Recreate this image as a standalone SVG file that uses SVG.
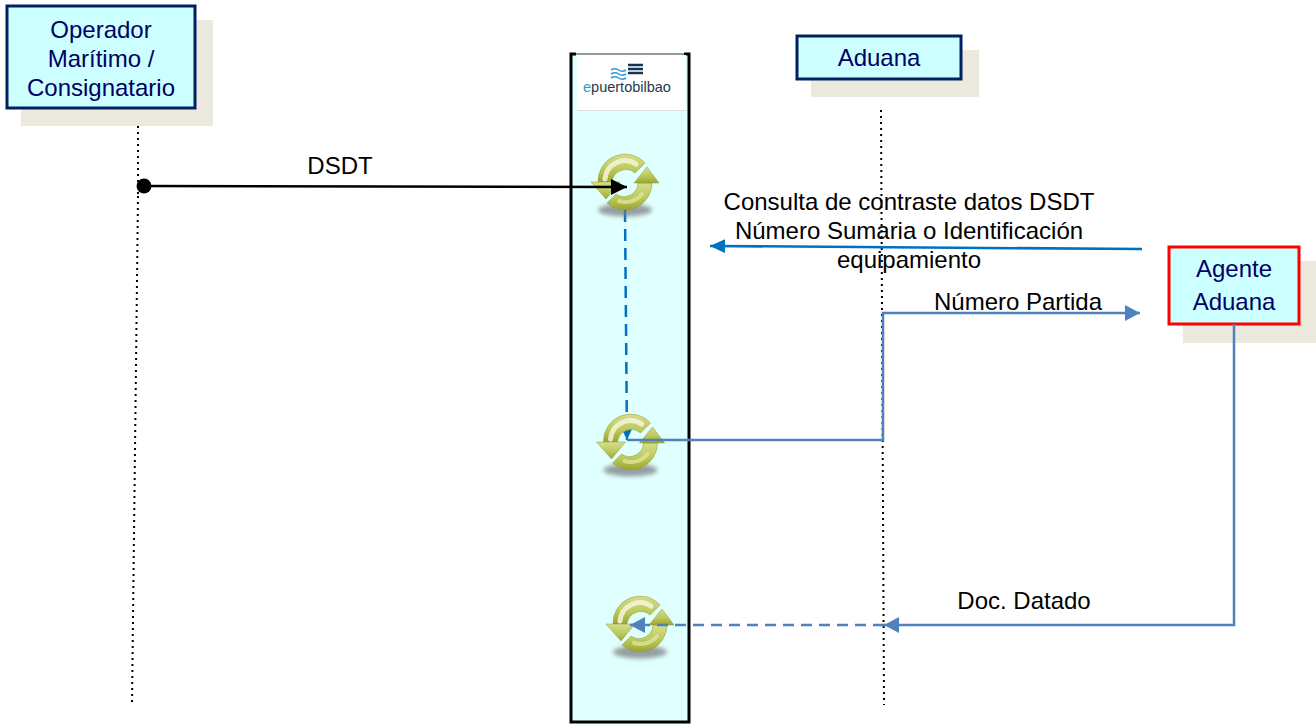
<svg xmlns="http://www.w3.org/2000/svg" width="1316" height="724" viewBox="0 0 1316 724">
<style>
text{font-family:"Liberation Sans",Arial,sans-serif}
.n{font-size:24px;fill:#000066;text-anchor:middle}
.l{font-size:24px;fill:#000;text-anchor:middle}
.sh{fill:#ECE9DF}
.box{fill:#CCFFFF;stroke:#002060;stroke-width:3}
.dot{fill:none;stroke:#000;stroke-width:2;stroke-dasharray:2 4}
.blue{fill:none;stroke:#4F81BD;stroke-width:2.5}
.ico{stroke:#8F9A35;stroke-width:.5}
</style>
<defs>
<marker id="ab" viewBox="0 0 10 10" preserveAspectRatio="none" refX="10" refY="5" markerWidth="15" markerHeight="16" markerUnits="userSpaceOnUse" orient="auto"><path d="M0,0L10,5L0,10Z" fill="#4F81BD"/></marker>
<marker id="ad" viewBox="0 0 10 10" preserveAspectRatio="none" refX="10" refY="5" markerWidth="15" markerHeight="14" markerUnits="userSpaceOnUse" orient="auto"><path d="M0,0L10,5L0,10Z" fill="#0070C0"/></marker>
<marker id="ak" viewBox="0 0 10 10" preserveAspectRatio="none" refX="10" refY="5" markerWidth="16" markerHeight="16" markerUnits="userSpaceOnUse" orient="auto"><path d="M0,0L10,5L0,10Z" fill="#000"/></marker>
<linearGradient id="g" x1="0" y1="0" x2="0" y2="1"><stop offset="0" stop-color="#D5DE8C"/><stop offset=".55" stop-color="#BEC95C"/><stop offset="1" stop-color="#9AA632"/></linearGradient>
<filter id="b" x="-30%" y="-80%" width="160%" height="260%"><feGaussianBlur stdDeviation="2"/></filter>
<symbol id="icon" viewBox="-36 -30 72 70" width="72" height="70" overflow="visible">
<ellipse cx="0" cy="28" rx="27" ry="6.500" fill="#777" opacity=".7" filter="url(#b)"/>
<g class="ico" fill="url(#g)">
<path d="M-27,0A27,27 0 0 1 20,-19L10,-9A14,14 0 0 0 -13,0Z"/>
<path d="M-34,0L-5,0L-19,17Z"/>
<path d="M27,1A27,27 0 0 1 -18,21L-9,12A14,14 0 0 0 13,1Z"/>
<path d="M34,1L9,1L22,-15Z"/>
</g>
<path d="M-20,-3A20,20 0 0 1 11,-18" fill="none" stroke="#F4F6D8" stroke-width="5" stroke-linecap="round" opacity=".85"/>
<path d="M17,12A21,21 0 0 1 -6,19" fill="none" stroke="#DDE39A" stroke-width="4" stroke-linecap="round" opacity=".8"/>
</symbol>
</defs>

<g id="pillar">
<rect x="571" y="54" width="118" height="668" fill="#E0FFFF"/>
<path d="M571,54H689" stroke="#777" stroke-width="1.5" fill="none"/>
<path d="M576,54H571V722H689V54H684" stroke="#000" stroke-width="3" fill="none"/>
<rect x="577" y="55" width="109" height="55" fill="#fff"/>
<path d="M577,110.500H686" stroke="#ddd" stroke-width="1"/>
</g>
<g id="logo">
<path d="M611,70q4,-2.500 7.500,0t7.500,0M611,74q4,-2.500 7.500,0t7.500,0M611,78q4,-2.500 7.500,0t7.500,0" fill="none" stroke="#2E9BD6" stroke-width="1.500"/>
<path d="M628,65H643M628,69H643M628,73H643" stroke="#12384F" stroke-width="2.500"/>
<text x="583" y="92" font-size="14.500" fill="#1F3A4D"><tspan fill="#2E9BD6">e</tspan>puertobilbao</text>
</g>

<g id="lifelines">
<path class="dot" d="M138,108V196"/>
<path class="dot" d="M138,196L132,704"/>
<path class="dot" d="M881,110L884,705"/>
</g>

<g id="operador">
<rect class="sh" x="21" y="20" width="192" height="106"/>
<rect class="box" x="7" y="6" width="188" height="102"/>
<text class="n" x="101" y="38">Operador</text>
<text class="n" x="101" y="67">Marítimo /</text>
<text class="n" x="101" y="96">Consignatario</text>
</g>
<g id="aduana">
<rect class="sh" x="811" y="50" width="168" height="47"/>
<rect class="box" x="797" y="36" width="164" height="43"/>
<text class="n" x="879" y="66">Aduana</text>
</g>
<g id="agente">
<rect class="sh" x="1183" y="261" width="133" height="82"/>
<rect x="1169" y="247" width="130" height="77" fill="#CCFFFF" stroke="#FF0000" stroke-width="3"/>
<text class="n" x="1234" y="277">Agente</text>
<text class="n" x="1234" y="310">Aduana</text>
</g>

<g id="connectors-under">
<path d="M625,210L627,440" fill="none" stroke="#0070C0" stroke-width="2.500" stroke-dasharray="12 7" marker-end="url(#ad)"/>
</g>

<g id="icons">
<use href="#icon" x="589" y="152"/>
<use href="#icon" x="594.500" y="412"/>
<use href="#icon" x="604" y="594"/>
</g>

<g id="connectors">
<path d="M144,186L627,187" fill="none" stroke="#000" stroke-width="2.500" marker-end="url(#ak)"/>
<circle cx="144" cy="186" r="7.500" fill="#000"/>
<path d="M1142,249L710,246" fill="none" stroke="#0070C0" stroke-width="2.500" marker-end="url(#ad)"/>
<path class="blue" d="M627,440H883V313H1140" marker-end="url(#ab)"/>
<path class="blue" d="M1234,324V625H884" marker-end="url(#ab)"/>
<path class="blue" d="M884,625H630" stroke-dasharray="11 7" marker-end="url(#ab)"/>
</g>

<g id="labels">
<text class="l" x="340" y="174">DSDT</text>
<text class="l" x="909" y="210">Consulta de contraste datos DSDT</text>
<text class="l" x="909" y="239">Número Sumaria o Identificación</text>
<text class="l" x="909" y="268">equipamiento</text>
<text class="l" x="1018" y="310">Número Partida</text>
<text class="l" x="1024" y="609">Doc. Datado</text>
</g>
</svg>
